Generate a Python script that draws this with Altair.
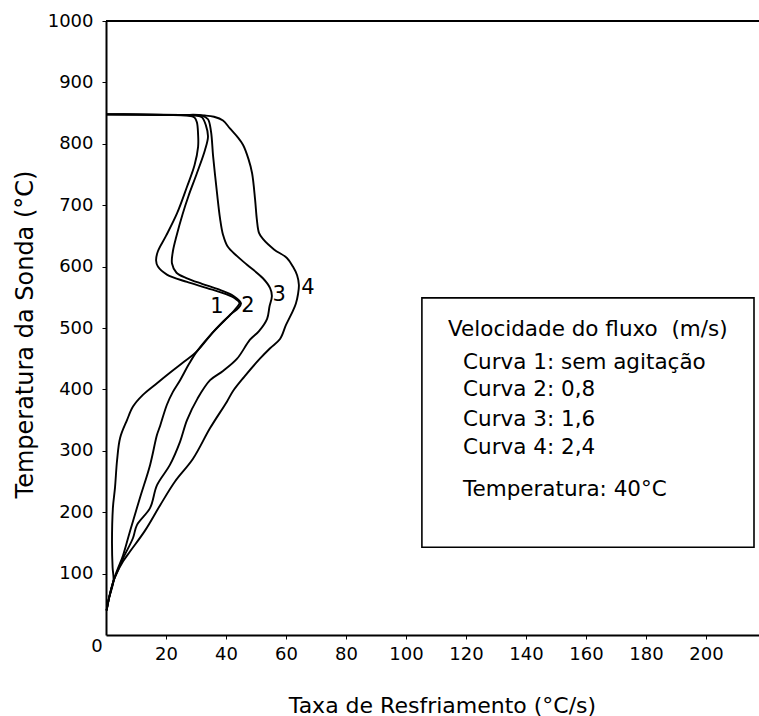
import altair as alt
import pandas as pd

# ---- data (rate in °C/s, temperature in °C) ----
c1_rate = [0, 10, 20, 27, 29.5, 30.3, 30.7, 30.7, 29.5, 27, 23.7, 20, 17.3, 16.7, 17.3, 20.3, 27, 33.7, 40, 43, 44.5, 43, 41.3, 36, 30.3, 26, 21.3, 17, 12.3, 9, 7, 4.7, 3.7, 3, 2.3, 2, 2.2, 2.5, 1, 0.2]
c1_temp = [848, 848, 847, 846, 843, 835, 815, 795, 765, 730, 687, 650, 625, 610, 600, 587, 575, 565, 555, 548, 541, 530, 521, 495, 462, 445, 427, 410, 391, 372, 350, 321, 285, 240, 207, 150, 110, 88, 60, 40]

c2_rate = [0, 20, 30, 32, 33.3, 34, 33, 30.3, 27.5, 25.5, 23.5, 22.3, 22, 23.5, 27, 32, 38, 42.5, 45, 44, 41.5, 36, 30.3, 27.5, 24.7, 22.3, 20.3, 18, 17, 14.7, 11.3, 8, 5.7, 3.7, 2.5, 1, 0.2]
c2_temp = [848, 847, 846, 843, 830, 812, 790, 752, 715, 685, 650, 625, 605, 590, 581, 572, 562, 552, 540, 532, 522, 495, 462, 440, 415, 396, 375, 340, 326, 277, 223, 169, 130, 105, 88, 60, 40]

c3_rate = [0, 25, 32, 34, 35, 35.7, 37, 38, 39, 40.5, 43.7, 47, 52.3, 54.7, 55.3, 54.5, 53.7, 51, 48, 43.7, 39, 34.7, 30.5, 27, 24.7, 21.3, 17, 14.7, 10.3, 9, 5.7, 3.5, 2.5, 1, 0.2]
c3_temp = [848, 847, 846, 840, 820, 780, 720, 679, 652, 633, 617, 603, 581, 565, 552, 535, 515, 495, 481, 450, 430, 415, 385, 350, 315, 277, 244, 207, 179, 158, 125, 100, 88, 60, 40]

c4_rate = [0, 25, 33, 36, 39, 41.3, 44, 45.7, 47.5, 48.7, 49.7, 50.3, 51, 52.3, 56, 60.3, 62.3, 63.7, 64.3, 64, 63.3, 62.3, 60, 58, 54.7, 51.3, 46, 42.3, 40.3, 34.7, 29, 23, 18, 13, 8, 5.7, 3.5, 2.5, 1, 0.2]
c4_temp = [848, 847, 846, 844, 838, 825, 810, 798, 775, 752, 709, 676, 655, 645, 628, 614, 600, 586, 570, 555, 540, 528, 505, 482, 467, 450, 420, 397, 380, 337, 287, 250, 211, 170, 136, 120, 100, 88, 60, 40]

curve_names = ["1", "2", "3", "4"]
label_rate = [37, 47.3, 57.7, 67.3]
label_temp = [534, 536, 554, 565]

x_ticks = [20, 40, 60, 80, 100, 120, 140, 160, 180, 200]
y_ticks = [100, 200, 300, 400, 500, 600, 700, 800, 900, 1000]

legend_lines = ["Velocidade do fluxo \u00a0(m/s)", "Curva 1: sem agitação", "Curva 2: 0,8",
                "Curva 3: 1,6", "Curva 4: 2,4", "Temperatura: 40°C"]
legend_rate = [114, 119, 119, 119, 119, 119]
legend_temp = [497, 443, 399, 350, 305, 236]
box_rate = [105.3, 216]
box_temp = [143, 549]

X_MAX = 653 / 3.0
FONT = "DejaVu Sans"

rows = []
for name, xs, ts in zip(curve_names, [c1_rate, c2_rate, c3_rate, c4_rate],
                        [c1_temp, c2_temp, c3_temp, c4_temp]):
    for i, (x, t) in enumerate(zip(xs, ts)):
        rows.append({"curve": name, "rate": x, "temp": t, "order": i})
df = pd.DataFrame(rows)

xscale = alt.Scale(domain=[0, X_MAX], nice=False, zero=False)
yscale = alt.Scale(domain=[0, 1000], nice=False)

x_axis = alt.Axis(values=x_ticks, format="d", grid=False, tickSize=4, tickColor="black", tickWidth=1,
                  domainColor="black", domainWidth=2, labelFont=FONT, labelFontSize=18,
                  labelColor="black", labelPadding=6, labelFlush=False,
                  title="Taxa de Resfriamento (°C/s)", titleFont=FONT, titleFontSize=22,
                  titleFontWeight="normal", titleColor="black", titleX=336, titleY=70,
                  titleAlign="center", titleBaseline="middle")
y_axis = alt.Axis(values=y_ticks, format="d", grid=False, tickSize=4, tickColor="black", tickWidth=1,
                  domainColor="black", domainWidth=2, labelFont=FONT, labelFontSize=18,
                  labelColor="black", labelPadding=9, labelFlush=False,
                  title="Temperatura da Sonda (°C)", titleFont=FONT, titleFontSize=24,
                  titleFontWeight="normal", titleColor="black", titleAngle=270,
                  titleX=-81, titleY=313, titleAlign="center", titleBaseline="middle")


def X(field):
    return alt.X(field, scale=xscale, axis=x_axis)


def Y(field):
    return alt.Y(field, scale=yscale, axis=y_axis)


lines = alt.Chart(df).mark_line(color="black", strokeWidth=1.9, interpolate="catmull-rom").encode(
    x=X("rate:Q"),
    y=Y("temp:Q"),
    detail="curve:N",
    order="order:Q",
)

top = alt.Chart(pd.DataFrame({"rate": [0], "rate2": [X_MAX], "temp": [1000]})).mark_rule(
    color="black", strokeWidth=2).encode(
    x=X("rate:Q"),
    x2="rate2:Q",
    y=Y("temp:Q"),
)

zero = alt.Chart(pd.DataFrame({"rate": [0], "temp": [0], "t": ["0"]})).mark_text(
    font=FONT, fontSize=18, color="black", dx=-9, dy=12, align="center", baseline="middle").encode(
    x=X("rate:Q"),
    y=Y("temp:Q"),
    text="t:N",
)

labels = alt.Chart(pd.DataFrame({"rate": label_rate, "temp": label_temp, "t": curve_names})).mark_text(
    font=FONT, fontSize=21, color="black", align="center", baseline="middle").encode(
    x=X("rate:Q"),
    y=Y("temp:Q"),
    text="t:N",
)

box = alt.Chart(pd.DataFrame({"rate": [box_rate[0]], "rate2": [box_rate[1]],
                              "temp": [box_temp[0]], "temp2": [box_temp[1]]})).mark_rect(
    fill="white", stroke="black", strokeWidth=1.6).encode(
    x=X("rate:Q"), x2="rate2:Q",
    y=Y("temp:Q"), y2="temp2:Q",
)

legend = alt.Chart(pd.DataFrame({"rate": legend_rate, "temp": legend_temp, "t": legend_lines})).mark_text(
    font=FONT, fontSize=21.5, color="black", align="left", baseline="middle").encode(
    x=X("rate:Q"),
    y=Y("temp:Q"),
    text="t:N",
)

chart = alt.layer(lines, top, zero, labels, box, legend).properties(
    width=653, height=614,
    padding={"left": 106, "top": 21, "right": 0, "bottom": 81},
    autosize=alt.AutoSizeParams(type="none"),
    background="white",
).configure_view(stroke=None)

chart.save("out.html", embed_options={"renderer": "svg", "actions": False})
